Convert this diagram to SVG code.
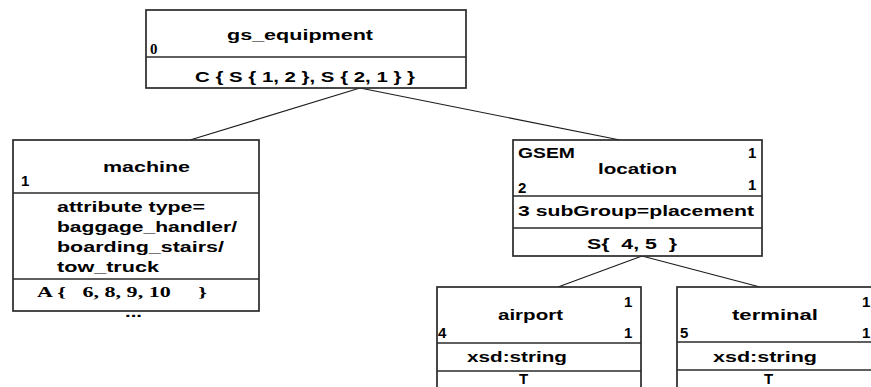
<svg xmlns="http://www.w3.org/2000/svg" width="871" height="387" viewBox="0 0 871 387">
  <style>
    .box { fill: #ffffff; stroke: #2a2a2a; stroke-width: 1.7; }
    .div { stroke: #2a2a2a; stroke-width: 1.6; }
    .edge { stroke: #1a1a1a; stroke-width: 1.1; fill: none; }
    text { font-family: "Liberation Sans", Arial, sans-serif; font-weight: bold; font-size: 15px; fill: #000; }
    .serif { font-family: "Liberation Serif", "Times New Roman", serif; }
  </style>
  <rect width="871" height="387" fill="#ffffff"/>

  <g id="connectors">
    <line class="edge" x1="360" y1="88" x2="190" y2="140"/>
    <line class="edge" x1="360" y1="88" x2="620" y2="140"/>
    <line class="edge" x1="642" y1="256" x2="558" y2="287"/>
    <line class="edge" x1="642" y1="256" x2="760" y2="287"/>
  </g>

  <g id="gs_equipment">
    <rect class="box" x="146" y="10" width="320" height="78"/>
    <line class="div" x1="146" y1="57" x2="466" y2="57"/>
    <text x="227" y="40" textLength="146" lengthAdjust="spacingAndGlyphs">gs_equipment</text>
    <text class="serif" x="150" y="54">0</text>
    <text x="195" y="82" textLength="220" lengthAdjust="spacingAndGlyphs">C { S { 1, 2 }, S { 2, 1 } }</text>
  </g>

  <g id="machine">
    <rect class="box" x="13" y="140" width="246" height="171"/>
    <line class="div" x1="13" y1="193" x2="259" y2="193"/>
    <line class="div" x1="13" y1="279" x2="259" y2="279"/>
    <text x="103" y="172" textLength="87" lengthAdjust="spacingAndGlyphs">machine</text>
    <text x="21" y="186">1</text>
    <text x="57" y="212" textLength="148" lengthAdjust="spacingAndGlyphs">attribute type=</text>
    <text x="57" y="232" textLength="180" lengthAdjust="spacingAndGlyphs">baggage_handler/</text>
    <text x="57" y="252" textLength="167" lengthAdjust="spacingAndGlyphs">boarding_stairs/</text>
    <text x="57" y="272" textLength="102" lengthAdjust="spacingAndGlyphs">tow_truck</text>
    <text class="serif" x="37" y="297" textLength="170" lengthAdjust="spacingAndGlyphs" xml:space="preserve">A {   6, 8, 9, 10     }</text>
    <text x="125" y="317" font-size="9px" textLength="17" lengthAdjust="spacingAndGlyphs">...</text>
  </g>

  <g id="location">
    <rect class="box" x="513" y="140" width="249" height="116"/>
    <line class="div" x1="513" y1="196" x2="762" y2="196"/>
    <line class="div" x1="513" y1="228" x2="762" y2="228"/>
    <text x="518" y="158" textLength="57" lengthAdjust="spacingAndGlyphs">GSEM</text>
    <text x="748" y="158">1</text>
    <text x="598" y="174" textLength="79" lengthAdjust="spacingAndGlyphs">location</text>
    <text x="518" y="193">2</text>
    <text x="748" y="190">1</text>
    <text x="518" y="216" textLength="236" lengthAdjust="spacingAndGlyphs">3 subGroup=placement</text>
    <text x="587" y="249" textLength="90" lengthAdjust="spacingAndGlyphs" xml:space="preserve">S{  4, 5  }</text>
  </g>

  <g id="airport">
    <rect class="box" x="437" y="287" width="204" height="110"/>
    <line class="div" x1="437" y1="343" x2="641" y2="343"/>
    <line class="div" x1="437" y1="371" x2="641" y2="371"/>
    <text x="624" y="307">1</text>
    <text x="498" y="320" textLength="65" lengthAdjust="spacingAndGlyphs">airport</text>
    <text x="438" y="338">4</text>
    <text x="624" y="338">1</text>
    <text x="467" y="362" textLength="100" lengthAdjust="spacingAndGlyphs">xsd:string</text>
    <text x="519" y="384">T</text>
  </g>

  <g id="terminal">
    <rect class="box" x="677" y="287" width="210" height="110"/>
    <line class="div" x1="677" y1="342" x2="887" y2="342"/>
    <line class="div" x1="677" y1="370" x2="887" y2="370"/>
    <text x="862" y="307">1</text>
    <text x="732" y="320" textLength="86" lengthAdjust="spacingAndGlyphs">terminal</text>
    <text x="680" y="338">5</text>
    <text x="862" y="338">1</text>
    <text x="713" y="362" textLength="104" lengthAdjust="spacingAndGlyphs">xsd:string</text>
    <text x="764" y="384">T</text>
  </g>
</svg>
